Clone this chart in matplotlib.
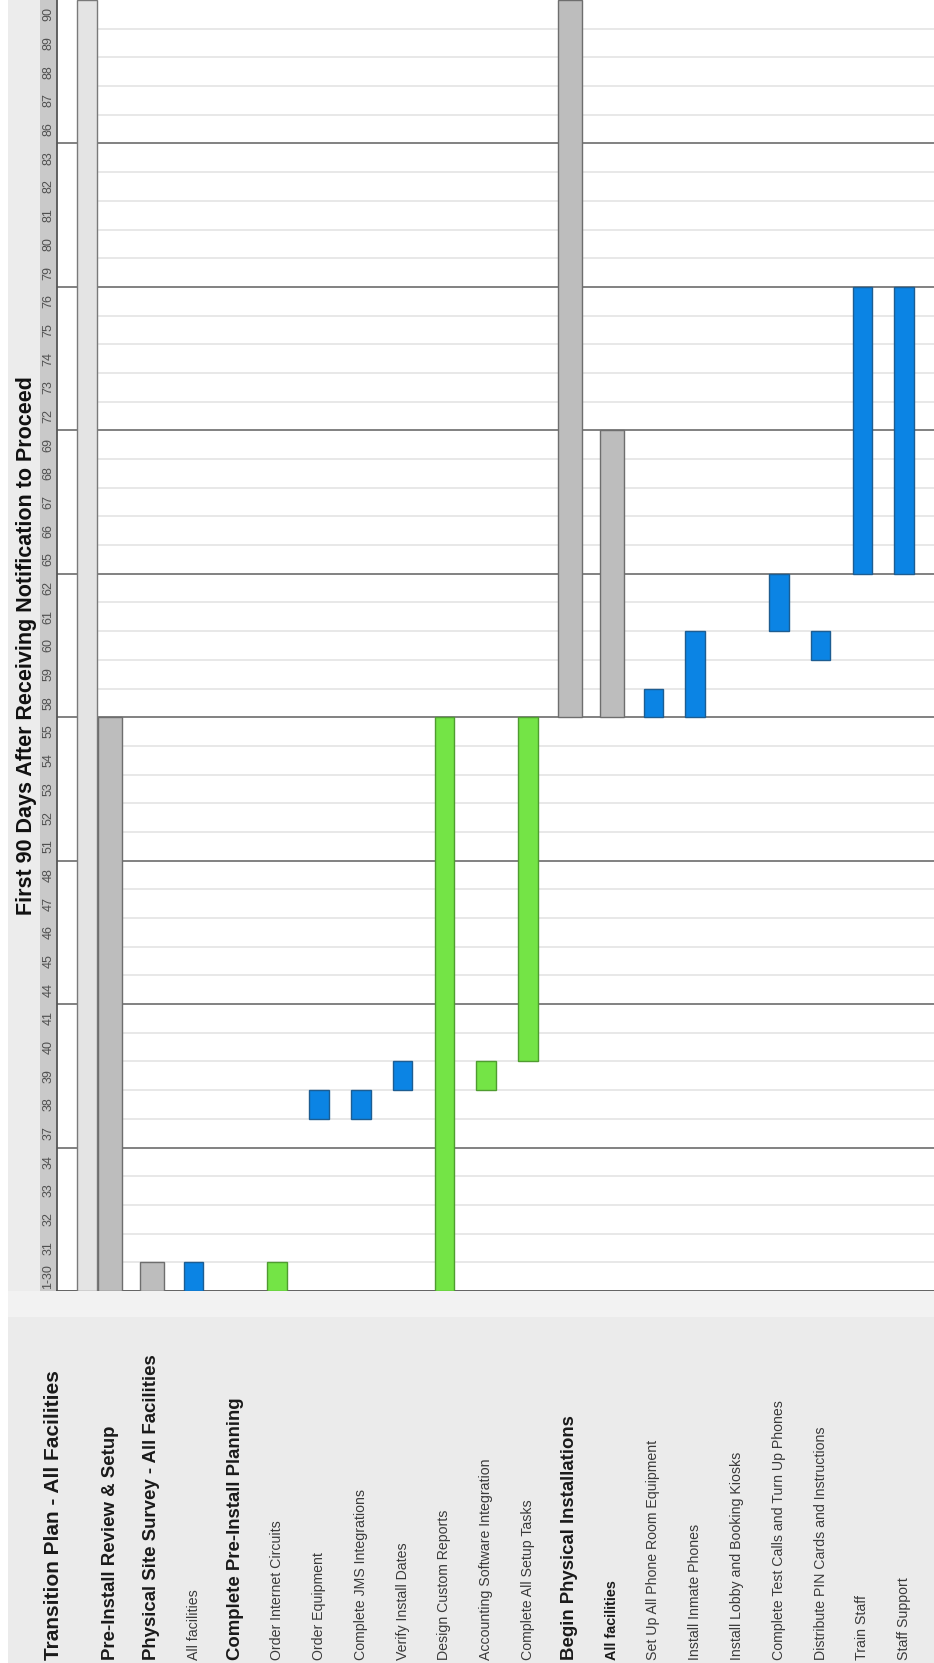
import matplotlib
matplotlib.use("Agg")
import matplotlib.pyplot as plt
from matplotlib.patches import Rectangle

plt.rcParams['font.family'] = ['Liberation Sans', 'DejaVu Sans']

# Data
title = "First 90 Days After Receiving Notification to Proceed"

day_labels = ['1-30', '31', '32', '33', '34', '37', '38', '39', '40', '41',
              '44', '45', '46', '47', '48', '51', '52', '53', '54', '55',
              '58', '59', '60', '61', '62', '65', '66', '67', '68', '69',
              '72', '73', '74', '75', '76', '79', '80', '81', '82', '83',
              '86', '87', '88', '89', '90']

row_labels = ['Transition Plan - All Facilities',
              'Pre-Install Review & Setup',
              'Physical Site Survey - All Facilities',
              'All facilities',
              'Complete Pre-Install Planning',
              'Order Internet Circuits',
              'Order Equipment',
              'Complete JMS Integrations',
              'Verify Install Dates',
              'Design Custom Reports',
              'Accounting Software Integration',
              'Complete All Setup Tasks',
              'Begin Physical Installations',
              'All facilities',
              'Set Up All Phone Room Equipment',
              'Install Inmate Phones',
              'Install Lobby and Booking Kiosks',
              'Complete Test Calls and Turn Up Phones',
              'Distribute PIN Cards and Instructions',
              'Train Staff',
              'Staff Support']

row_style = ['top', 'section', 'section', 'task', 'section', 'task', 'task',
             'task', 'task', 'task', 'task', 'task', 'section', 'sub', 'task',
             'task', 'task', 'task', 'task', 'task', 'task']

bar_start = ['1-30', '1-30', '1-30', '1-30', None, '1-30', '38', '38', '39',
             '1-30', '39', '40', '58', '58', '58', '58', None, '61', '60',
             '65', '65']
bar_end = ['90', '55', '1-30', '1-30', None, '1-30', '38', '38', '39',
           '55', '39', '55', '90', '69', '58', '60', None, '62', '60',
           '76', '76']
bar_kind = ['plan', 'phase', 'phase', 'blue', None, 'green', 'blue', 'blue',
            'blue', 'green', 'green', 'green', 'phase', 'phase', 'blue',
            'blue', None, 'blue', 'blue', 'blue', 'blue']

# Styles
W, H = 934, 1663
fill = {'plan': '#e4e4e4', 'phase': '#bdbdbd', 'blue': '#0b84e4', 'green': '#74e446'}
edge = {'plan': '#7a7a7a', 'phase': '#6e6e6e', 'blue': '#1d5d92', 'green': '#4f9c30'}
width = {'plan': 0.48, 'phase': 0.57, 'blue': 0.47, 'green': 0.47}
text_style = {'top': dict(fontsize=15, fontweight='bold', color='#1a1a1a'),
              'section': dict(fontsize=13.4, fontweight='bold', color='#1a1a1a'),
              'sub': dict(fontsize=10.4, fontweight='bold', color='#1a1a1a'),
              'task': dict(fontsize=10.2, color='#3a3a3a')}

row0_px, row_pitch = 68.2, 41.8
chart_left, chart_bottom, label_bottom = 57, 1291, 1663


def px_rect(x0, y0, x1, y1):
    return [x0 / W, 1 - y1 / H, (x1 - x0) / W, (y1 - y0) / H]


def to_row(px):
    return (px - row0_px) / row_pitch


fig = plt.figure(figsize=(W / 100, H / 100), dpi=100)
fig.patch.set_facecolor('white')

# title strip
ax_t = fig.add_axes(px_rect(8, 0, 40, chart_bottom))
ax_t.set_facecolor('#ececec')
ax_t.set_xticks([]); ax_t.set_yticks([])
for s in ax_t.spines.values():
    s.set_visible(False)
ax_t.text(0.58, 0.5, title, rotation=90, ha='center', va='center',
          fontsize=15.5, fontweight='bold', color='#111111', transform=ax_t.transAxes)

# day header
ax_h = fig.add_axes(px_rect(40, 0, chart_left, chart_bottom))
ax_h.set_facecolor('#c9c9c9')
ax_h.set_xlim(0, 1)
ax_h.set_ylim(0, len(day_labels))
ax_h.set_xticks([]); ax_h.set_yticks([])
for s in ax_h.spines.values():
    s.set_visible(False)
for i, d in enumerate(day_labels):
    ax_h.text(0.5, i + 0.5, d, rotation=90, ha='center', va='center',
              fontsize=9, color='#505050')

# main chart
ax = fig.add_axes(px_rect(chart_left, 0, W, chart_bottom))
ax.set_xlim(to_row(chart_left), to_row(W))
ax.set_ylim(0, len(day_labels))
ax.set_xticks([]); ax.set_yticks([])
for side in ['top', 'right']:
    ax.spines[side].set_visible(False)
for side in ['left', 'bottom']:
    ax.spines[side].set_color('#555555')
    ax.spines[side].set_linewidth(1.3)

n = len(day_labels)
plan_edge = to_row(97)
xmin_faint = (plan_edge - to_row(chart_left)) / (to_row(W) - to_row(chart_left))
for b in range(1, n):
    if b % 5 == 0:
        ax.axhline(b, color='#777777', lw=1.3, zorder=1)
    else:
        ax.axhline(b, xmin=xmin_faint, color='#e2e2e2', lw=1.1, zorder=0.5)

for r in range(len(row_labels)):
    kind = bar_kind[r]
    if kind is None:
        continue
    s = day_labels.index(bar_start[r])
    e = day_labels.index(bar_end[r]) + 1
    x = r if kind != 'plan' else r + 0.45
    ax.bar(x, e - s, bottom=s, width=width[kind], color=fill[kind],
           edgecolor=edge[kind], linewidth=1.0, zorder=3)

# row labels
ax_l = fig.add_axes(px_rect(8, chart_bottom, W, label_bottom))
ax_l.set_facecolor('#ebebeb')
ax_l.set_xlim(to_row(8), to_row(W))
ax_l.set_ylim(0, 1)
ax_l.set_xticks([]); ax_l.set_yticks([])
for s in ax_l.spines.values():
    s.set_visible(False)
ax_l.add_patch(Rectangle((to_row(8), 0.93), to_row(W) - to_row(8), 0.07,
                         facecolor='#f2f2f2', edgecolor='none'))
for r, lab in enumerate(row_labels):
    x = r if r > 0 else to_row(53)
    ax_l.text(x, 0.008, lab, rotation=90, rotation_mode='anchor',
              ha='left', va='center', **text_style[row_style[r]])

fig.savefig('out.png', dpi=100)
